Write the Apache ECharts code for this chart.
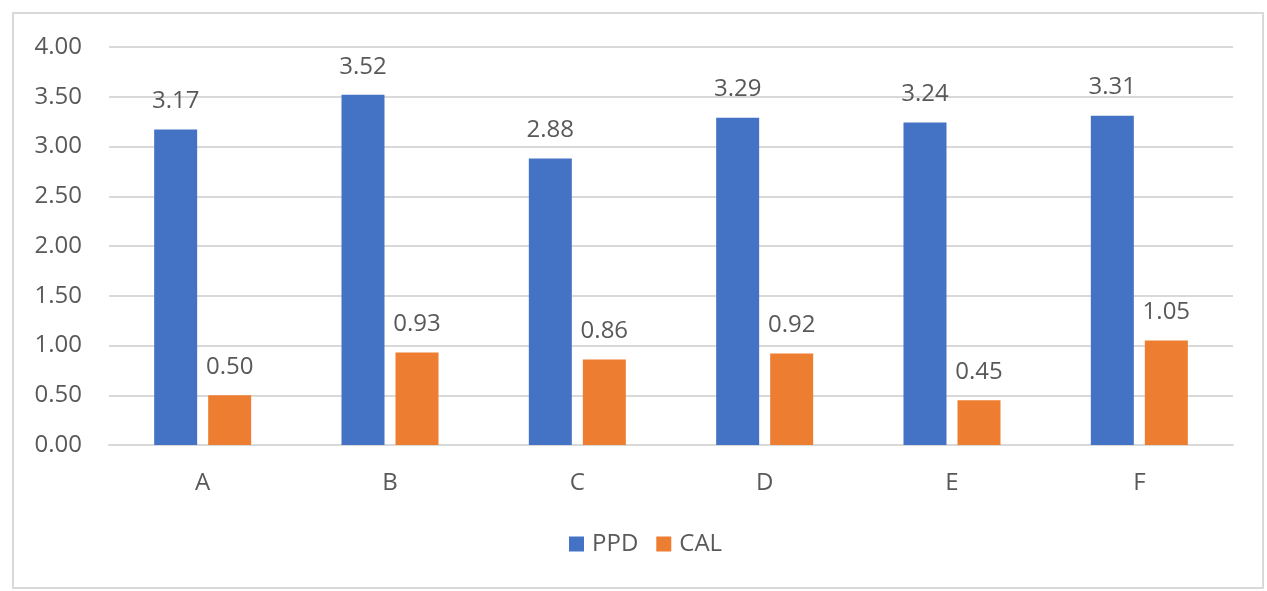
<!DOCTYPE html>
<html>
<head>
<meta charset="utf-8">
<script src="https://cdn.jsdelivr.net/npm/echarts@6/dist/echarts.min.js"></script>
<style>
  html, body { margin: 0; padding: 0; background: #fff; }
  #chart { width: 1267px; height: 591px; }
</style>
</head>
<body>
<div id="chart"></div>
<script>
// Sites along the x axis
const categories = ['A', 'B', 'C', 'D', 'E', 'F'];
// Mean probing pocket depth and clinical attachment loss
const ppdValues = [3.17, 3.52, 2.88, 3.29, 3.24, 3.31];
const calValues = [0.50, 0.93, 0.86, 0.92, 0.45, 1.05];
// Y axis range and step
const yMin = 0;
const yMax = 4;
const yStep = 0.5;

const FONT = 'Open Sans';
const TEXT = '#595959';

const chart = echarts.init(document.getElementById('chart'), null, { renderer: 'canvas' });

const labelStyle = {
  show: true,
  position: 'top',
  distance: 16,
  color: TEXT,
  fontFamily: FONT,
  fontSize: 24,
  formatter: p => p.value.toFixed(2)
};

chart.setOption({
  animation: false,
  backgroundColor: '#fff',
  graphic: [{
    type: 'rect',
    shape: { x: 13, y: 13, width: 1250, height: 575 },
    style: { fill: 'none', stroke: '#d9d9d9', lineWidth: 2 },
    silent: true
  }],
  grid: { left: 109, right: 34, top: 47, bottom: 146, containLabel: false },
  legend: {
    top: 532,
    left: 569,
    padding: 0,
    itemWidth: 15,
    itemHeight: 15,
    itemGap: 18,
    icon: 'rect',
    textStyle: { color: TEXT, fontFamily: FONT, fontSize: 24, padding: [0, 0, 0, 3] },
    data: ['PPD', 'CAL']
  },
  xAxis: {
    type: 'category',
    data: categories,
    axisLine: { show: true, lineStyle: { color: '#d9d9d9', width: 2 } },
    axisTick: { show: false },
    axisLabel: { color: TEXT, fontFamily: FONT, fontSize: 24, margin: 26 }
  },
  yAxis: {
    type: 'value',
    min: yMin,
    max: yMax,
    interval: yStep,
    axisLine: { show: false },
    axisTick: { show: false },
    splitLine: { lineStyle: { color: '#d9d9d9', width: 2 } },
    axisLabel: {
      color: TEXT, fontFamily: FONT, fontSize: 24, margin: 27,
      formatter: v => v.toFixed(2)
    }
  },
  series: [
    {
      name: 'PPD',
      type: 'bar',
      data: ppdValues,
      barWidth: 43,
      barGap: '25.6%',
      itemStyle: { color: '#4472C4' },
      label: labelStyle
    },
    {
      name: 'CAL',
      type: 'bar',
      data: calValues,
      barWidth: 43,
      itemStyle: { color: '#ED7D31' },
      label: labelStyle
    }
  ]
});
</script>
</body>
</html>
